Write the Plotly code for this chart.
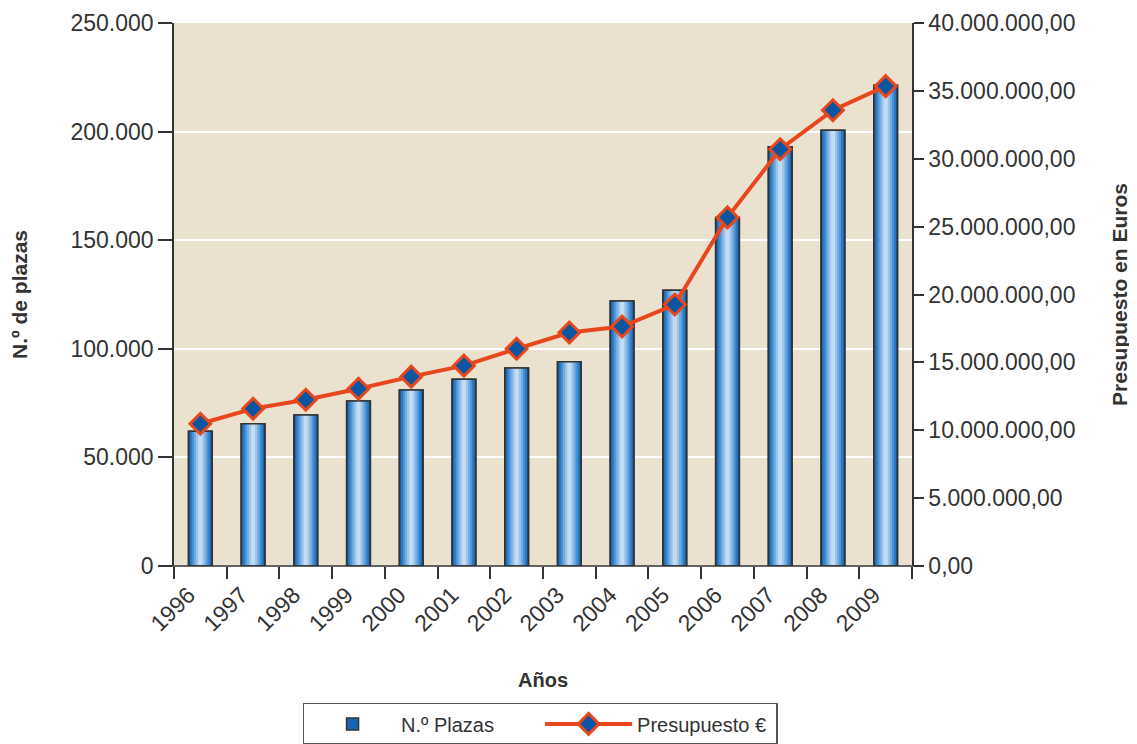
import plotly.graph_objects as go

years = ["1996", "1997", "1998", "1999", "2000", "2001", "2002", "2003",
         "2004", "2005", "2006", "2007", "2008", "2009"]
plazas = [62000, 65500, 69500, 76000, 81000, 86000, 91200, 94000,
          122000, 127000, 160500, 193000, 200600, 221300]
presupuesto = [10480000, 11590000, 12250000, 13060000, 13950000, 14760000,
               16000000, 17200000, 17640000, 19260000, 25680000, 30700000,
               33580000, 35350000]

bar_name = "N.º Plazas"
line_name = "Presupuesto €"

# gradient layers (outer -> inner)
layer_colors = ["#1567b4", "#2a7cc6", "#4b93d4", "#72ace1", "#9bc4eb", "#c3dbf3"]
layer_widths = [0.45, 0.38, 0.31, 0.24, 0.16, 0.08]

fig = go.Figure()
for i, (c, w) in enumerate(zip(layer_colors, layer_widths)):
    fig.add_trace(go.Bar(
        x=years, y=plazas, width=w, name=bar_name,
        marker=dict(color=c, line=dict(color="#333333", width=1.5 if i == 0 else 0)),
        showlegend=(i == 0), yaxis="y",
    ))
# outline on top
fig.add_trace(go.Bar(
    x=years, y=plazas, width=layer_widths[0], showlegend=False,
    marker=dict(color="rgba(0,0,0,0)", line=dict(color="#333333", width=1.5)),
))
fig.add_trace(go.Scatter(
    x=years, y=presupuesto, name=line_name, yaxis="y2", mode="lines+markers",
    line=dict(color="#e8461c", width=4),
    marker=dict(symbol="diamond", size=16, color="#0b56a2",
                line=dict(color="#e8461c", width=3)),
))

font_family = "Liberation Sans, Arial, sans-serif"
fig.update_layout(
    width=1137, height=744,
    margin=dict(l=166, r=233, t=15, b=186),
    paper_bgcolor="white", plot_bgcolor="#eae2cf",
    barmode="overlay",
    separators=",.",
    font=dict(family=font_family, color="#333333", size=20),
    xaxis=dict(
        type="category", tickson="boundaries", ticks="outside", ticklen=12,
        range=[-0.5, 13.5], automargin=False,
        tickcolor="#333333", tickwidth=1.5, tickangle=-45,
        tickfont=dict(size=23, color="#333333"),
        ticklabelstandoff=10, ticklabelshift=-12,
        showgrid=False, showline=False, zeroline=False,
        title=dict(text="<b>Años</b>", font=dict(size=20, color="#333333"), standoff=37),
    ),
    yaxis=dict(
        range=[0, 250000], dtick=50000, tickformat=",d", automargin=False,
        ticks="outside", ticklen=14, tickcolor="#333333", tickwidth=1.5,
        showline=True, linecolor="#333333", linewidth=1.5,
        showgrid=True, gridcolor="white", gridwidth=2, zeroline=False,
        tickfont=dict(size=23, color="#333333"),
        title=dict(text="<b>N.º de plazas</b>", font=dict(size=21, color="#333333"), standoff=40),
    ),
    yaxis2=dict(
        range=[0, 40000000], dtick=5000000, tickformat=",.2f", automargin=False,
        overlaying="y", side="right",
        ticks="outside", ticklen=10, tickcolor="#333333", tickwidth=1.5,
        showline=True, linecolor="#333333", linewidth=1.5,
        showgrid=False, zeroline=False,
        tickfont=dict(size=23, color="#333333"),
        title=dict(text="<b>Presupuesto en Euros</b>", font=dict(size=21, color="#333333"), standoff=38),
    ),
    legend=dict(
        orientation="h", x=0.496, xanchor="center",
        yref="container", y=0.066, yanchor="top",
        bordercolor="#555555", borderwidth=1.5, bgcolor="white",
        font=dict(size=20, color="#333333"), itemwidth=87,
        entrywidth=134, traceorder="normal",
    ),
    shapes=[dict(type="line", xref="paper", yref="paper", x0=-0.016, x1=1.015,
                 y0=0, y1=0, line=dict(color="#333333", width=1.5), layer="above")],
)

fig.write_html("out.html")
